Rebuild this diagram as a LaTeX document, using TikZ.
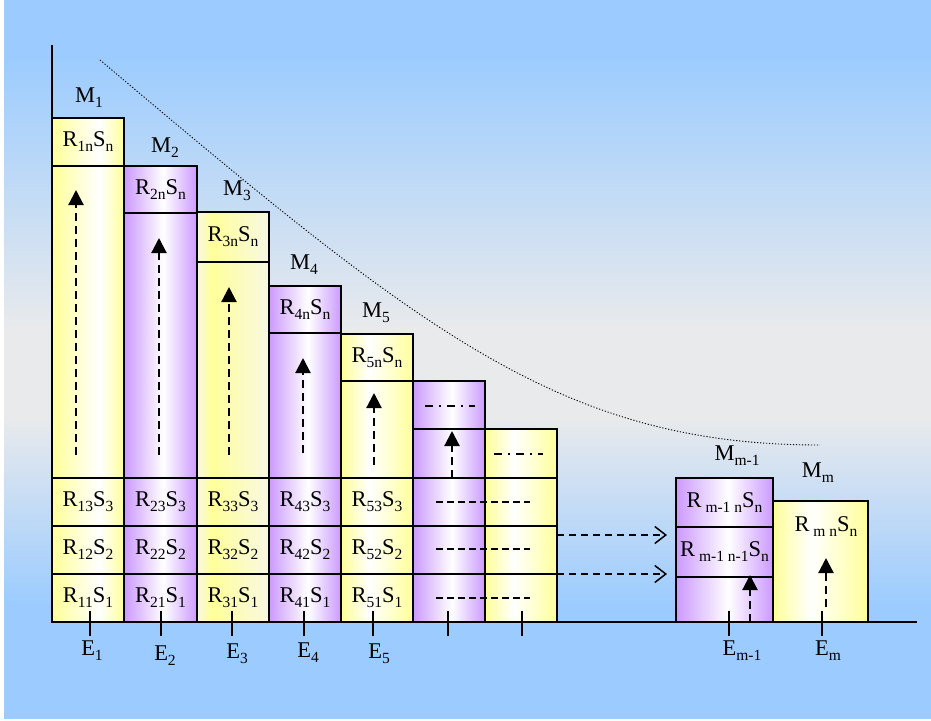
\documentclass[tikz,border=0pt]{standalone}
\usepackage{fontspec}
\setmainfont{Liberation Serif}
\usetikzlibrary{arrows.meta}
\definecolor{bgblue}{RGB}{156,204,255}
\definecolor{bggray}{RGB}{233,234,236}
\definecolor{cyel}{RGB}{255,255,153}
\definecolor{ccream}{RGB}{248,248,228}
\definecolor{cpur}{RGB}{204,153,255}
\newcommand\sbs[1]{\raisebox{-5pt}{\fontsize{15.5}{16}\selectfont #1}}
\pgfdeclareverticalshading{bgshade}{100bp}{color(0bp)=(bgblue); color(25bp)=(bgblue); color(33bp)=(bgblue); color(46bp)=(bggray); color(52bp)=(bggray); color(71bp)=(bgblue); color(100bp)=(bgblue)}
\pgfdeclarehorizontalshading{yone}{100bp}{color(0bp)=(cyel); color(25bp)=(cyel); color(58bp)=(white); color(75bp)=(cyel); color(100bp)=(cyel)}
\pgfdeclarehorizontalshading{ythree}{100bp}{color(0bp)=(ccream); color(25bp)=(ccream); color(35bp)=(cyel); color(75bp)=(ccream); color(100bp)=(ccream)}
\pgfdeclarehorizontalshading{yfive}{100bp}{color(0bp)=(cyel); color(25bp)=(cyel); color(45bp)=(white); color(75bp)=(cyel); color(100bp)=(cyel)}
\pgfdeclarehorizontalshading{purp}{100bp}{color(0bp)=(cpur); color(25bp)=(cpur); color(52bp)=(white); color(75bp)=(cpur); color(100bp)=(cpur)}
\begin{document}
\begin{tikzpicture}[x=1pt,y=-1pt,
  txt/.style={font=\fontsize{22.5}{24}\selectfont, inner sep=0pt},
  box/.style={draw=black, line width=1.6pt, inner sep=0pt, shade, font=\fontsize{22.5}{24}\selectfont},
  yA/.style={box, shading=yone},
  yB/.style={box, shading=ythree},
  yC/.style={box, shading=yfive},
  pA/.style={box, shading=purp},
  sz/.style 2 args={minimum width=#1pt, minimum height=#2pt},
  axisline/.style={line width=1.6pt},
  tick/.style={line width=1.6pt},
  uparrow/.style={line width=2.2pt, dash pattern=on 8pt off 5pt, -{Triangle[length=15pt,width=15pt]}},
  hdash/.style={line width=1.5pt, dash pattern=on 7pt off 4pt},
  harrow/.style={line width=1.5pt, dash pattern=on 7pt off 5pt, -{Straight Barb[length=11pt,width=17pt,line width=1.5pt]}},
  dashdot/.style={line width=1.5pt, dash pattern=on 8pt off 6pt on 2pt off 6pt},
  curve/.style={line width=0.9pt, dash pattern=on 1.2pt off 1.8pt}
]
\useasboundingbox (0,0) rectangle (931,720);
\fill[white] (0,0) rectangle (931,720);
\shade[shading=bgshade] (4,0) rectangle (931,718);

% column 1
\node[yA, sz={72}{48}] (c11) at (88,598) {R\sbs{11}S\sbs{1}};
\node[yA, sz={72}{48}] (c12) at (88,550) {R\sbs{12}S\sbs{2}};
\node[yA, sz={72}{48}] (c13) at (88,502) {R\sbs{13}S\sbs{3}};
\node[yA, sz={72}{312}] (b1) at (88,322) {};
\node[yA, sz={72}{48}] (n1) at (88,142) {R\sbs{1n}S\sbs{n}};
% column 2
\node[pA, sz={73}{48}] (c21) at (160.5,598) {R\sbs{21}S\sbs{1}};
\node[pA, sz={73}{48}] (c22) at (160.5,550) {R\sbs{22}S\sbs{2}};
\node[pA, sz={73}{48}] (c23) at (160.5,502) {R\sbs{23}S\sbs{3}};
\node[pA, sz={73}{265}] (b2) at (160.5,345.5) {};
\node[pA, sz={73}{47}] (n2) at (160.5,189.5) {R\sbs{2n}S\sbs{n}};
% column 3
\node[yB, sz={72}{48}] (c31) at (233,598) {R\sbs{31}S\sbs{1}};
\node[yB, sz={72}{48}] (c32) at (233,550) {R\sbs{32}S\sbs{2}};
\node[yB, sz={72}{48}] (c33) at (233,502) {R\sbs{33}S\sbs{3}};
\node[yB, sz={72}{216}] (b3) at (233,370) {};
\node[yB, sz={72}{50}] (n3) at (233,237) {R\sbs{3n}S\sbs{n}};
% column 4
\node[pA, sz={72}{48}] (c41) at (305,598) {R\sbs{41}S\sbs{1}};
\node[pA, sz={72}{48}] (c42) at (305,550) {R\sbs{42}S\sbs{2}};
\node[pA, sz={72}{48}] (c43) at (305,502) {R\sbs{43}S\sbs{3}};
\node[pA, sz={72}{145}] (b4) at (305,405.5) {};
\node[pA, sz={72}{47}] (n4) at (305,309.5) {R\sbs{4n}S\sbs{n}};
% column 5
\node[yC, sz={72}{48}] (c51) at (377,598) {R\sbs{51}S\sbs{1}};
\node[yC, sz={72}{48}] (c52) at (377,550) {R\sbs{52}S\sbs{2}};
\node[yC, sz={72}{48}] (c53) at (377,502) {R\sbs{53}S\sbs{3}};
\node[yC, sz={72}{97}] (b5) at (377,429.5) {};
\node[yC, sz={72}{47}] (n5) at (377,357.5) {R\sbs{5n}S\sbs{n}};
% column 6
\node[pA, sz={72}{48}] (c61) at (449,598) {};
\node[pA, sz={72}{48}] (c62) at (449,550) {};
\node[pA, sz={72}{48}] (c63) at (449,502) {};
\node[pA, sz={72}{49}] (b6) at (449,453.5) {};
\node[pA, sz={72}{48}] (n6) at (449,405) {};
% column 7
\node[yC, sz={72}{48}] (c71) at (521,598) {};
\node[yC, sz={72}{48}] (c72) at (521,550) {};
\node[yC, sz={72}{48}] (c73) at (521,502) {};
\node[yC, sz={72}{49}] (n7) at (521,453.5) {};
% column m-1
\node[pA, sz={97}{45}] (d1) at (724.5,599.5) {};
\node[pA, sz={97}{50}] (d2) at (724.5,552) {R\sbs{ m-1 n-1}S\sbs{n}};
\node[pA, sz={97}{49}] (d3) at (724.5,502.5) {R\sbs{ m-1 n}S\sbs{n}};
% column m
\node[yC, sz={95}{121}] (em) at (820.5,561.5) {};
\node[txt] (tm) at (826,527) {R\sbs{ m n}S\sbs{n}};

% axes
\coordinate (ytop) at (52,45);
\coordinate (orig) at (52,622);
\coordinate (xend) at (917,622);
\draw[axisline] (ytop) -- (orig) -- (xend);

% dotted curve
\coordinate (cv1) at (100,60);
\coordinate (cv2) at (820,445);
\draw[curve] (cv1) .. controls (420,330) and (560,445) .. (cv2);

% vertical arrows
\coordinate (a1s) at (76,455); \coordinate (a1e) at (76,190);
\coordinate (a2s) at (159,455); \coordinate (a2e) at (159,238);
\coordinate (a3s) at (229,455); \coordinate (a3e) at (229,287);
\coordinate (a4s) at (303,453); \coordinate (a4e) at (303,358);
\coordinate (a5s) at (374,465); \coordinate (a5e) at (374,393);
\coordinate (a6s) at (452,478); \coordinate (a6e) at (452,431);
\coordinate (a7s) at (750,622); \coordinate (a7e) at (750,575);
\coordinate (a8s) at (826,607); \coordinate (a8e) at (826,558);
\foreach \i in {1,...,8} \draw[uparrow] (a\i s) -- (a\i e);

% dash-dot in caps
\coordinate (dd1s) at (425,406); \coordinate (dd1e) at (475,406);
\coordinate (dd2s) at (494,454); \coordinate (dd2e) at (543,454);
\draw[dashdot] (dd1s) -- (dd1e);
\draw[dashdot] (dd2s) -- (dd2e);

% dashed rows across columns 6 and 7
\coordinate (h1s) at (436,502); \coordinate (h1e) at (530,502);
\coordinate (h2s) at (436,549); \coordinate (h2e) at (530,549);
\coordinate (h3s) at (436,598); \coordinate (h3e) at (530,598);
\foreach \i in {1,2,3} \draw[hdash] (h\i s) -- (h\i e);

% horizontal arrows
\coordinate (r1s) at (557,535); \coordinate (r1e) at (667,535);
\coordinate (r2s) at (557,574); \coordinate (r2e) at (667,574);
\draw[harrow] (r1s) -- (r1e);
\draw[harrow] (r2s) -- (r2e);

% ticks
\foreach \x [count=\k] in {90,161,232,304,373,448,522,729,822} {
  \coordinate (t\k a) at (\x,611);
  \coordinate (t\k b) at (\x,636);
  \draw[tick] (t\k a) -- (t\k b);
}

% E labels
\node[txt] (E1) at (92,651) {E\sbs{1}};
\node[txt] (E2) at (165,656) {E\sbs{2}};
\node[txt] (E3) at (237,654) {E\sbs{3}};
\node[txt] (E4) at (308,653) {E\sbs{4}};
\node[txt] (E5) at (379,654) {E\sbs{5}};
\node[txt] (Em1) at (742,651) {E\sbs{m-1}};
\node[txt] (Em) at (828,651) {E\sbs{m}};

% M labels
\node[txt] (M1) at (89,98) {M\sbs{1}};
\node[txt] (M2) at (165,148) {M\sbs{2}};
\node[txt] (M3) at (237,191) {M\sbs{3}};
\node[txt] (M4) at (304,265) {M\sbs{4}};
\node[txt] (M5) at (376,313) {M\sbs{5}};
\node[txt] (Mm1) at (737,456) {M\sbs{m-1}};
\node[txt] (Mm) at (818,473) {M\sbs{m}};
\end{tikzpicture}
\end{document}
